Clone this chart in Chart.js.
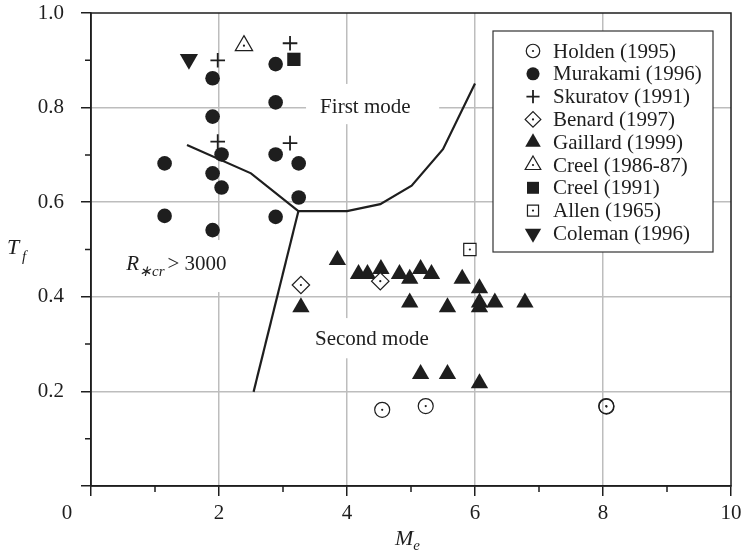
<!DOCTYPE html>
<html><head><meta charset="utf-8">
<script src="https://cdn.jsdelivr.net/npm/chart.js@4/dist/chart.umd.min.js"></script>
<style>html,body{margin:0;padding:0;background:#fff}#wrap{width:744px;height:557px}</style>
</head><body><div id="wrap"><canvas id="c" width="744" height="557"></canvas></div>
<script>
// ---- data (Me, Tf) ----
const holdenX   = [4.55, 5.23, 8.05, 8.055];
const holdenY   = [0.161, 0.169, 0.169, 0.168];
const murakamiX = [1.15, 1.15, 1.90, 1.90, 1.90, 1.90, 2.04, 2.04, 2.885, 2.885, 2.885, 2.885, 3.245, 3.245];
const murakamiY = [0.682, 0.571, 0.862, 0.781, 0.661, 0.541, 0.701, 0.631, 0.892, 0.811, 0.701, 0.569, 0.682, 0.610];
const skuratovX = [1.98, 1.98, 3.11, 3.11];
const skuratovY = [0.900, 0.728, 0.936, 0.725];
const benardX   = [3.28, 4.52];
const benardY   = [0.425, 0.433];
const gaillardX = [3.85, 4.18, 4.32, 4.53, 4.82, 4.98, 5.15, 5.32, 5.80, 6.07, 4.98, 5.57, 6.07, 6.07, 6.31, 6.78, 3.28, 5.15, 5.57, 6.07];
const gaillardY = [0.478, 0.448, 0.448, 0.459, 0.448, 0.438, 0.459, 0.448, 0.438, 0.418, 0.388, 0.378, 0.388, 0.378, 0.388, 0.388, 0.378, 0.237, 0.237, 0.217];
const creel86X  = [2.39];
const creel86Y  = [0.931];
const creel91X  = [3.17];
const creel91Y  = [0.902];
const allenX    = [5.92];
const allenY    = [0.500];
const colemanX  = [1.53];
const colemanY  = [0.902];
// mode boundary curves
const modeLineX = [1.50, 2.50, 3.24, 4.00, 4.52, 5.01, 5.50, 6.00];
const modeLineY = [0.721, 0.661, 0.581, 0.581, 0.596, 0.635, 0.712, 0.851];
const reLineX   = [3.24, 2.54];
const reLineY   = [0.581, 0.199];
// axis ticks
const xMajorTicks = [0, 2, 4, 6, 8, 10];
const yMajorTicks = [0, 0.2, 0.4, 0.6, 0.8, 1.0];
const xMinorTicks = [1, 3, 5, 7, 9];
const yMinorTicks = [0.1, 0.3, 0.5, 0.7, 0.9];

const FONT = '"Liberation Serif","Times New Roman",serif';
const INK = '#1e1e1e';
const GRID = '#bdbdbd';

const pts = (xs, ys) => xs.map((x, i) => ({x, y: ys[i]}));

const datasets = [
  {label:'Holden (1995)', data:pts(holdenX, holdenY), pointStyle:'circle', pointRadius:7.5, backgroundColor:'rgba(255,255,255,0)', borderColor:INK, borderWidth:1.2, centerDot:true},
  {label:'Murakami (1996)', data:pts(murakamiX, murakamiY), pointStyle:'circle', pointRadius:7.3, backgroundColor:INK, borderColor:INK, borderWidth:0},
  {label:'Skuratov (1991)', data:pts(skuratovX, skuratovY), pointStyle:'cross', pointRadius:7.3, backgroundColor:INK, borderColor:INK, borderWidth:1.8},
  {label:'Benard (1997)', data:pts(benardX, benardY), pointStyle:'rectRot', pointRadius:8.7, backgroundColor:'#fff', borderColor:INK, borderWidth:1.2, centerDot:true},
  {label:'Gaillard (1999)', data:pts(gaillardX, gaillardY), pointStyle:'triangle', pointRadius:10, backgroundColor:INK, borderColor:INK, borderWidth:0},
  {label:'Creel (1986-87)', data:pts(creel86X, creel86Y), pointStyle:'triangle', pointRadius:10, backgroundColor:'#fff', borderColor:INK, borderWidth:1.2, centerDot:true},
  {label:'Creel (1991)', data:pts(creel91X, creel91Y), pointStyle:'rect', pointRadius:9.4, backgroundColor:INK, borderColor:INK, borderWidth:0},
  {label:'Allen (1965)', data:pts(allenX, allenY), pointStyle:'rect', pointRadius:8.7, backgroundColor:'#fff', borderColor:INK, borderWidth:1.2, centerDot:true},
  {label:'Coleman (1996)', data:pts(colemanX, colemanY), pointStyle:'triangle', rotation:180, pointRotation:180, pointRadius:10.5, backgroundColor:INK, borderColor:INK, borderWidth:0},
  {type:'line', data:pts(modeLineX, modeLineY), showLine:true, pointRadius:0, borderColor:INK, borderWidth:2.2, fill:false, order:10, noLegend:true},
  {type:'line', data:pts(reLineX, reLineY), showLine:true, pointRadius:0, borderColor:INK, borderWidth:2.2, fill:false, order:10, noLegend:true}
];

// text annotations (data coordinates), with white backing boxes
const textBoxes = [
  {x0:3.36, x1:5.44, y0:0.765, y1:0.85},
  {x0:3.35, x1:5.45, y0:0.27, y1:0.355},
  {x0:0.38, x1:2.25, y0:0.41, y1:0.52}
];

function drawMarker(ctx, ds, x, y, scale) {
  ctx.save();
  ctx.fillStyle = ds.backgroundColor;
  ctx.strokeStyle = ds.borderColor;
  ctx.lineWidth = ds.borderWidth;
  Chart.helpers.drawPoint(ctx, {pointStyle: ds.pointStyle, rotation: ds.rotation || 0, radius: ds.pointRadius * scale, borderWidth: ds.borderWidth}, x, y);
  if (ds.centerDot) {
    ctx.fillStyle = INK;
    ctx.beginPath(); ctx.arc(x, y, 1.1, 0, Math.PI * 2); ctx.fill();
  }
  ctx.restore();
}

const decor = {
  id: 'decor',
  beforeDatasetsDraw(chart) {
    const {ctx, scales: {x, y}} = chart;
    ctx.save();
    ctx.fillStyle = '#fff';
    for (const b of textBoxes) {
      const px0 = x.getPixelForValue(b.x0), px1 = x.getPixelForValue(b.x1);
      const py0 = y.getPixelForValue(b.y0), py1 = y.getPixelForValue(b.y1);
      ctx.fillRect(Math.min(px0, px1), Math.min(py0, py1), Math.abs(px1 - px0), Math.abs(py1 - py0));
    }
    ctx.fillStyle = INK;
    ctx.textBaseline = 'middle';
    ctx.textAlign = 'left';
    ctx.font = '21px ' + FONT;
    ctx.fillText('First mode', x.getPixelForValue(3.58), y.getPixelForValue(0.80));
    ctx.fillText('Second mode', x.getPixelForValue(3.50), y.getPixelForValue(0.309));
    // R*cr > 3000
    let tx = x.getPixelForValue(0.55);
    const by = y.getPixelForValue(0.457);
    ctx.textBaseline = 'alphabetic';
    ctx.font = 'italic 21px ' + FONT;
    ctx.fillText('R', tx, by);
    tx += ctx.measureText('R').width;
    ctx.font = 'italic 15px ' + FONT;
    ctx.fillText('\u2217cr', tx, by + 6);
    tx += ctx.measureText('\u2217cr').width + 3;
    ctx.font = '21px ' + FONT;
    ctx.fillText('> 3000', tx, by);
    ctx.restore();
  },
  afterDatasetsDraw(chart) {
    const ctx = chart.ctx;
    ctx.save();
    ctx.fillStyle = INK;
    chart.data.datasets.forEach((ds, i) => {
      if (!ds.centerDot) return;
      chart.getDatasetMeta(i).data.forEach(p => {
        ctx.beginPath(); ctx.arc(p.x, p.y, 1.1, 0, Math.PI * 2); ctx.fill();
      });
    });
    ctx.restore();
  },
  afterDraw(chart) {
    const {ctx, chartArea: a, scales: {x, y}} = chart;
    ctx.save();
    // frame
    ctx.strokeStyle = INK;
    ctx.lineWidth = 1.5;
    ctx.strokeRect(a.left, a.top, a.right - a.left, a.bottom - a.top);
    // minor ticks
    ctx.beginPath();
    xMinorTicks.forEach(v => { const px = x.getPixelForValue(v); ctx.moveTo(px, a.bottom); ctx.lineTo(px, a.bottom + 6); });
    yMinorTicks.forEach(v => { const py = y.getPixelForValue(v); ctx.moveTo(a.left, py); ctx.lineTo(a.left - 6, py); });
    ctx.stroke();
    // "0" origin label (offset left in the reference)
    ctx.fillStyle = INK;
    ctx.font = '21px ' + FONT;
    ctx.textAlign = 'center';
    ctx.textBaseline = 'middle';
    ctx.fillText('0', x.getPixelForValue(0) - 24, a.bottom + 27);
    // axis titles
    ctx.textAlign = 'left';
    ctx.textBaseline = 'alphabetic';
    ctx.font = 'italic 22px ' + FONT;
    const midY = (a.top + a.bottom) / 2;
    ctx.fillText('T', 7, midY + 4);
    ctx.font = 'italic 15px ' + FONT;
    ctx.fillText('f', 22, midY + 11);
    const midX = (a.left + a.right) / 2;
    ctx.font = 'italic 22px ' + FONT;
    const mw = ctx.measureText('M').width;
    ctx.fillText('M', midX - 16, a.bottom + 59);
    ctx.font = 'italic 15px ' + FONT;
    ctx.fillText('e', midX - 16 + mw, a.bottom + 64);
    // legend
    const lx = a.right - 18, ly = a.top + 18, lw = 220, lh = 221;
    const L = lx - lw;
    ctx.fillStyle = '#fff';
    ctx.fillRect(L, ly, lw, lh);
    ctx.strokeStyle = '#333';
    ctx.lineWidth = 1.2;
    ctx.strokeRect(L, ly, lw, lh);
    const items = chart.data.datasets.filter(d => !d.noLegend);
    items.forEach((ds, i) => {
      const cy = ly + 20 + i * 22.8;
      drawMarker(ctx, ds, L + 40, cy, 0.9);
      ctx.fillStyle = INK;
      ctx.font = '21px ' + FONT;
      ctx.textAlign = 'left';
      ctx.textBaseline = 'middle';
      ctx.fillText(ds.label, L + 60, cy + 1);
    });
    ctx.restore();
  }
};

const near = (a, b) => Math.abs(a - b) < 1e-6;
const zeroPad = s => { s.paddingTop = 0; s.paddingBottom = 0; s.paddingLeft = 0; s.paddingRight = 0; };

new Chart(document.getElementById('c').getContext('2d'), {
  type: 'scatter',
  data: {datasets},
  plugins: [decor],
  options: {
    responsive: false,
    animation: false,
    devicePixelRatio: 1,
    layout: {padding: {top: 13, right: 13, left: 0, bottom: 0}},
    plugins: {legend: {display: false}, tooltip: {enabled: false}},
    elements: {line: {tension: 0}},
    scales: {
      x: {
        type: 'linear', min: 0, max: 10,
        afterBuildTicks: s => { s.ticks = xMajorTicks.map(v => ({value: v})); },
        afterFit: s => { s.height = 71; zeroPad(s); },
        ticks: {font: {family: FONT, size: 21}, color: INK, padding: 5, maxRotation: 0,
                callback: v => (near(v, 0) ? '' : String(v))},
        grid: {color: c => (near(c.tick.value, 0) || near(c.tick.value, 10)) ? 'rgba(0,0,0,0)' : GRID,
               lineWidth: 1.5, tickLength: 10, tickColor: INK, tickWidth: 1.5},
        border: {display: true, color: INK, width: 1.5}
      },
      y: {
        type: 'linear', min: 0, max: 1,
        afterBuildTicks: s => { s.ticks = yMajorTicks.map(v => ({value: v})); },
        afterFit: s => { s.width = 91; zeroPad(s); },
        ticks: {font: {family: FONT, size: 21}, color: INK, padding: 17,
                callback: v => (near(v, 0) ? '' : v.toFixed(1))},
        grid: {color: c => (near(c.tick.value, 0) || near(c.tick.value, 1)) ? 'rgba(0,0,0,0)' : GRID,
               lineWidth: 1.5, tickLength: 10, tickColor: INK, tickWidth: 1.5},
        border: {display: true, color: INK, width: 1.5}
      }
    }
  }
});
</script></body></html>
